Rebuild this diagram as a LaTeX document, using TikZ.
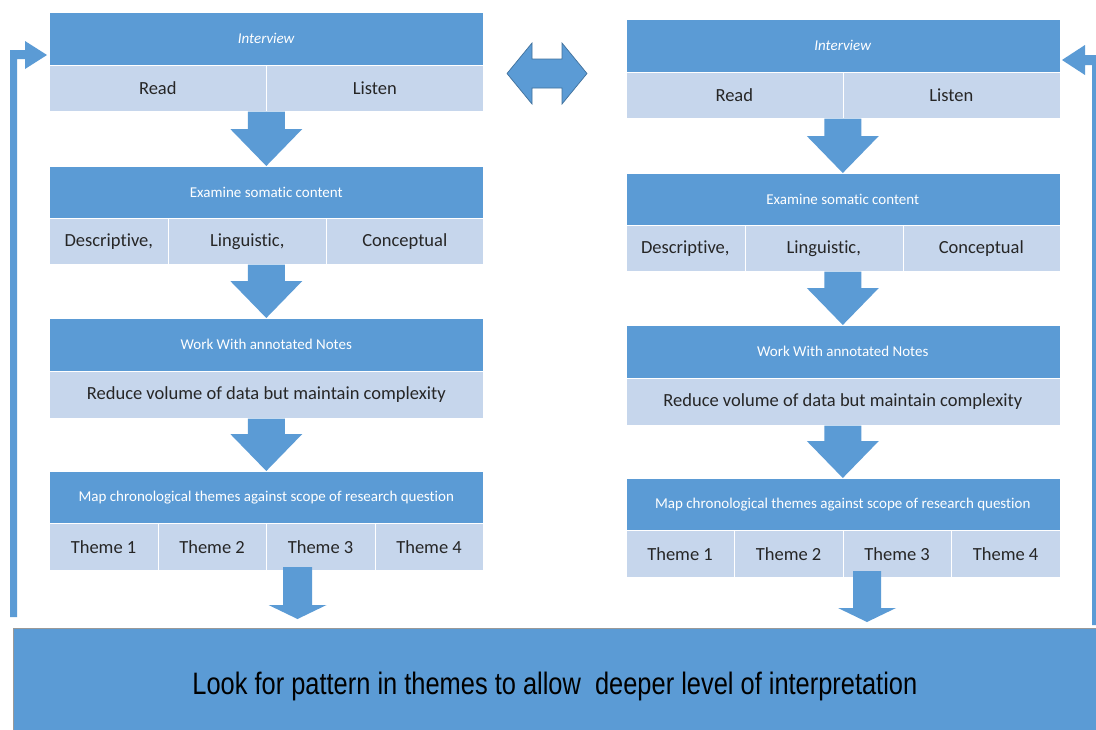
\documentclass[tikz,border=0pt]{standalone}
\usepackage{fontspec}
\setmainfont{Carlito}[Ligatures=NoCommon]
\newfontfamily\narrowsans[FakeStretch=0.82]{Liberation Sans}
\usetikzlibrary{calc}
\definecolor{dark}{HTML}{5B9BD5}
\definecolor{lite}{HTML}{C6D6EC}
\definecolor{edge}{HTML}{41719C}
\definecolor{ink}{HTML}{262626}
\tikzset{
 hdr/.style={fill=dark, draw=white, line width=0.6pt, text=white, font=\fontsize{15}{18}\selectfont, inner sep=0pt, anchor=north west},
 cell/.style={fill=lite, draw=white, line width=0.6pt, text=ink, font=\fontsize{18.5}{22}\selectfont, inner sep=0pt, anchor=north west},
 blk/.style={fill=dark},
}
\newcommand\flowcol[3]{%
 \node[hdr, minimum width=434pt, minimum height=53pt] (#1h1) at (#2,#3+12) {\textit{Interview}};
 \node[cell, minimum width=217pt, minimum height=46pt] (#1a1) at (#2,#3+65) {Read};
 \node[cell, minimum width=217pt, minimum height=46pt] (#1a2) at (#2+217,#3+65) {Listen};
 \node[hdr, minimum width=434pt, minimum height=52pt] (#1h2) at (#2,#3+166) {Examine somatic content};
 \node[cell, minimum width=119pt, minimum height=46pt] (#1b1) at (#2,#3+218) {Descriptive,};
 \node[cell, minimum width=158pt, minimum height=46pt] (#1b2) at (#2+119,#3+218) {Linguistic,};
 \node[cell, minimum width=157pt, minimum height=46pt] (#1b3) at (#2+277,#3+218) {Conceptual};
 \node[hdr, minimum width=434pt, minimum height=53pt] (#1h3) at (#2,#3+318) {Work With annotated Notes};
 \node[cell, minimum width=434pt, minimum height=47pt] (#1c1) at (#2,#3+371) {Reduce volume of data but maintain complexity};
 \node[hdr, minimum width=434pt, minimum height=52pt] (#1h4) at (#2,#3+471) {Map chronological themes against scope of research question};
 \node[cell, minimum width=108.5pt, minimum height=47pt] (#1d1) at (#2,#3+523) {Theme 1};
 \node[cell, minimum width=108.5pt, minimum height=47pt] (#1d2) at (#2+108.5,#3+523) {Theme 2};
 \node[cell, minimum width=108.5pt, minimum height=47pt] (#1d3) at (#2+217,#3+523) {Theme 3};
 \node[cell, minimum width=108.5pt, minimum height=47pt] (#1d4) at (#2+325.5,#3+523) {Theme 4};
 \coordinate (#1o1) at (#1h1.center |- #1a1.south);
 \coordinate (#1o2) at (#1h2.center |- #1b1.south);
 \coordinate (#1o3) at (#1h3.center |- #1c1.south);
 \blockarrow{#1o1}{#1h2.north}{18.5}{36}{37}
 \blockarrow{#1o2}{#1h3.north}{18.5}{36}{37}
 \blockarrow{#1o3}{#1h4.north}{18.5}{36}{37}
}
% #1 start coordinate, #2 tip, #3 shaft half width, #4 head half width, #5 head length
\newcommand\blockarrow[5]{%
 \fill[blk] ($(#1)+(-#3,0)$) -- ($(#1)+(#3,0)$) -- ($(#2)+(#3,-#5)$) -- ($(#2)+(#4,-#5)$) -- (#2) -- ($(#2)+(-#4,-#5)$) -- ($(#2)+(-#3,-#5)$) -- cycle;
}
\begin{document}
\begin{tikzpicture}[x=1pt,y=-1pt]
\useasboundingbox (0,0) rectangle (1096,729);
\fill[white] (0,0) rectangle (1096,729);
% bottom box
\node[fill=dark, draw=gray!80, line width=0.8pt, anchor=north west, minimum width=1083pt, minimum height=116pt, inner sep=0pt, text=black, font=\narrowsans\fontsize{31}{36}\selectfont] (bottom) at (13,628) {Look for pattern in themes to allow~ deeper level of interpretation};
% two columns
\flowcol{L}{49}{0}
\flowcol{R}{625.5}{7}
% arrows to bottom box
\coordinate (Ls) at (297.5,567);
\coordinate (Lt) at ($(bottom.north west)+(284.5,-9)$);
\blockarrow{Ls}{Lt}{14.5}{29}{14}
\coordinate (Rs) at (867,571);
\coordinate (Rt) at ($(bottom.north west)+(854,-6)$);
\blockarrow{Rs}{Rt}{14}{29}{14}
% double arrow between the interview headers
\fill[blk, draw=edge, line width=0.7pt] (507,73.5) -- (532,43) -- (532,59) -- (562,59) -- (562,43) -- (587,73.5) -- (562,104) -- (562,88) -- (532,88) -- (532,104) -- cycle;
% feedback arrows
\coordinate (fbL) at (47,55);
\fill[blk] (10,617) -- (10,50) -- (25,50) -- (25,41) -- (fbL) -- (25,69) -- (25,59) -- (17,59) -- (17,617) -- cycle;
\coordinate (fbR) at (1062,60);
\fill[blk] (1099,625) -- (1099,55) -- (1085,55) -- (1085,45) -- (fbR) -- (1085,75) -- (1085,65) -- (1092,65) -- (1092,625) -- cycle;
\end{tikzpicture}
\end{document}
